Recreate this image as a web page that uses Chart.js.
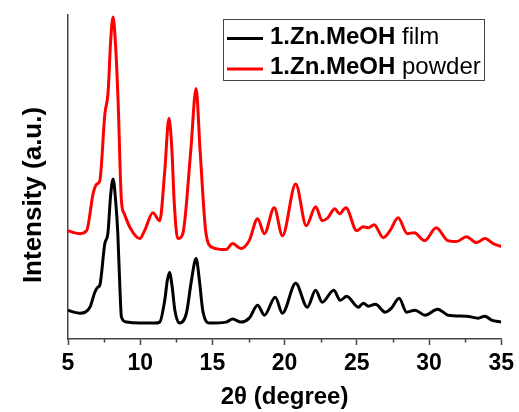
<!DOCTYPE html>
<html>
<head>
<meta charset="utf-8">
<script src="https://cdn.jsdelivr.net/npm/chart.js@4/dist/chart.umd.min.js"></script>
<style>
  html, body { margin: 0; padding: 0; background: #fff; }
  canvas { display: block; }
</style>
</head>
<body>
<canvas id="xrd" width="519" height="412"></canvas>
<script>
  "use strict";

  // ── Diffractogrammes (2θ en degrés, intensité en unités arbitraires) ──
  const FILM_ANGLES = [
    5.0, 5.4, 5.83, 6.2, 6.52, 6.86, 7.05, 7.2, 7.55, 7.76, 7.95, 8.12, 8.3, 8.45, 8.6, 8.7,
    9.05, 9.97, 11.0, 11.35, 11.7, 11.88, 12.03, 12.2, 12.4, 12.72, 13.2, 13.55, 13.87, 14.1,
    14.33, 14.8, 15.94, 16.4, 16.98, 17.55, 18.13, 18.6, 19.35, 19.85, 20.77, 21.57, 22.15,
    22.6, 23.4, 23.86, 24.3, 25.1, 25.45, 25.8, 26.3, 26.97, 27.4, 27.93, 28.45, 29.03, 29.72,
    30.6, 31.33, 32.6, 33.4, 33.87, 34.33, 35.0,
  ];
  const FILM_COUNTS = [
    29, 27, 26, 27, 32, 47, 52, 54, 96, 106, 144, 161, 139, 106, 49, 22,
    17, 16, 16, 17, 39, 59, 67, 54, 29, 16, 26, 59, 81, 59,
    29, 16, 17, 20, 17, 21, 34, 24, 42, 26, 56, 32, 49,
    37, 49, 39, 43, 32, 36, 33, 35, 27, 31, 41, 27, 29, 24,
    30, 24, 23, 21, 23, 19, 17,
  ];

  const POWDER_ANGLES = [
    5.0, 5.4, 5.83, 6.29, 6.75, 7.0, 7.2, 7.55, 7.78, 7.95, 8.12, 8.3, 8.47, 8.7, 8.9, 9.3,
    9.97, 10.3, 10.88, 11.35, 11.7, 11.99, 12.2, 12.35, 12.6, 12.95, 13.5, 13.87, 14.15, 14.56,
    15.02, 15.94, 16.4, 16.98, 17.55, 18.13, 18.6, 19.28, 19.85, 20.77, 21.5, 22.15, 22.6,
    23.0, 23.47, 23.8, 24.24, 25.0, 25.45, 25.8, 26.2, 26.83, 27.3, 27.86, 28.5, 28.97, 29.7,
    30.5, 31.3, 31.9, 32.6, 33.28, 33.87, 34.45, 35.0,
  ];
  const POWDER_COUNTS = [
    109, 107, 106, 109, 147, 156, 159, 226, 249, 299, 324, 294, 239, 139, 126, 112,
    101, 109, 127, 119, 169, 222, 189, 139, 101, 106, 189, 252, 189, 106,
    92, 90, 96, 91, 99, 121, 106, 132, 104, 156, 114, 133, 119,
    122, 131, 126, 132, 109, 113, 112, 115, 102, 109, 122, 106, 107, 99,
    112, 99, 98, 103, 97, 101, 96, 93,
  ];

  const SERIES_BOLD = ["1.Zn.MeOH", "1.Zn.MeOH"];
  const SERIES_SUFFIX = [" film", " powder"];
  const SERIES_COLORS = ["#000000", "#ff0000"];

  const X_TICKS = [5, 10, 15, 20, 25, 30, 35];
  const X_MINOR_TICKS = [7.5, 12.5, 17.5, 22.5, 27.5, 32.5];

  const FONT = '"Liberation Sans", Arial, sans-serif';
  const AXIS_COLOR = "#444";

  const toPoints = (xs, ys) => xs.map((x, i) => ({ x, y: ys[i] }));

  // Petites graduations intermédiaires sous l'axe des x
  const minorTicks = {
    id: "minorTicks",
    afterDraw(chart) {
      const { ctx, scales: { x }, chartArea } = chart;
      ctx.save();
      ctx.strokeStyle = AXIS_COLOR;
      ctx.lineWidth = 1.5;
      ctx.beginPath();
      X_MINOR_TICKS.forEach((v) => {
        const px = Math.round(x.getPixelForValue(v)) + 0.5;
        ctx.moveTo(px, chartArea.bottom);
        ctx.lineTo(px, chartArea.bottom + 3.5);
      });
      ctx.stroke();
      ctx.restore();
    },
  };

  // Titre de l'axe des y, décalé vers le bas comme dans la figure d'origine
  const yTitle = {
    id: "yTitle",
    afterDraw(chart) {
      const { ctx } = chart;
      ctx.save();
      ctx.translate(41, 195);
      ctx.rotate(-Math.PI / 2);
      ctx.font = `bold 26px ${FONT}`;
      ctx.fillStyle = "#000";
      ctx.textAlign = "center";
      ctx.textBaseline = "alphabetic";
      ctx.fillText("Intensity (a.u.)", 0, 0);
      ctx.restore();
    },
  };

  // Légende encadrée : nom du composé en gras, forme (film/poudre) en normal
  const boxedLegend = {
    id: "boxedLegend",
    afterDraw(chart) {
      const { ctx } = chart;
      const box = { left: 223.5, top: 19.5, width: 261, height: 61 };
      const rows = [38.5, 69];
      ctx.save();
      ctx.fillStyle = "#fff";
      ctx.fillRect(box.left, box.top, box.width, box.height);
      ctx.strokeStyle = AXIS_COLOR;
      ctx.lineWidth = 1;
      ctx.strokeRect(box.left, box.top, box.width, box.height);

      chart.data.datasets.forEach((ds, i) => {
        const y = rows[i];
        ctx.strokeStyle = ds.borderColor;
        ctx.lineWidth = 3;
        ctx.beginPath();
        ctx.moveTo(227, y);
        ctx.lineTo(263, y);
        ctx.stroke();

        ctx.fillStyle = "#000";
        ctx.textBaseline = "alphabetic";
        ctx.textAlign = "left";
        ctx.font = `bold 24px ${FONT}`;
        ctx.fillText(SERIES_BOLD[i], 270, y + 5);
        const w = ctx.measureText(SERIES_BOLD[i]).width;
        ctx.font = `24px ${FONT}`;
        ctx.fillText(SERIES_SUFFIX[i], 270 + w, y + 5);
      });
      ctx.restore();
    },
  };

  new Chart(document.getElementById("xrd"), {
    type: "line",
    data: {
      datasets: [
        {
          label: SERIES_BOLD[0] + SERIES_SUFFIX[0],
          data: toPoints(FILM_ANGLES, FILM_COUNTS),
          borderColor: SERIES_COLORS[0],
        },
        {
          label: SERIES_BOLD[1] + SERIES_SUFFIX[1],
          data: toPoints(POWDER_ANGLES, POWDER_COUNTS),
          borderColor: SERIES_COLORS[1],
        },
      ],
    },
    options: {
      responsive: false,
      animation: false,
      devicePixelRatio: 1,
      layout: { padding: { top: 15, right: 16, left: 0, bottom: 0 } },
      elements: {
        line: { borderWidth: 3, cubicInterpolationMode: "monotone", borderJoinStyle: "round" },
        point: { radius: 0 },
      },
      plugins: { legend: { display: false }, tooltip: { enabled: false } },
      scales: {
        x: {
          type: "linear",
          min: 5,
          max: 35,
          afterBuildTicks: (scale) => { scale.ticks = X_TICKS.map((value) => ({ value })); },
          afterFit: (scale) => { scale.height = 73; },
          ticks: {
            color: "#000",
            font: { family: FONT, size: 23, weight: "bold" },
            padding: 5,
            maxRotation: 0,
            autoSkip: false,
          },
          grid: {
            display: true,
            drawOnChartArea: false,
            tickLength: 6,
            tickColor: AXIS_COLOR,
            tickWidth: 1.5,
          },
          border: { display: true, color: AXIS_COLOR, width: 1.5 },
          title: {
            display: true,
            text: "2θ (degree)",
            color: "#000",
            font: { family: FONT, size: 24, weight: "bold" },
            padding: { top: 0, bottom: 0 },
          },
        },
        y: {
          min: 0,
          max: 326,
          afterFit: (scale) => { scale.width = 68; },
          ticks: { display: false },
          grid: { display: false },
          border: { display: true, color: AXIS_COLOR, width: 1.5 },
        },
      },
    },
    plugins: [minorTicks, yTitle, boxedLegend],
  });
</script>
</body>
</html>
